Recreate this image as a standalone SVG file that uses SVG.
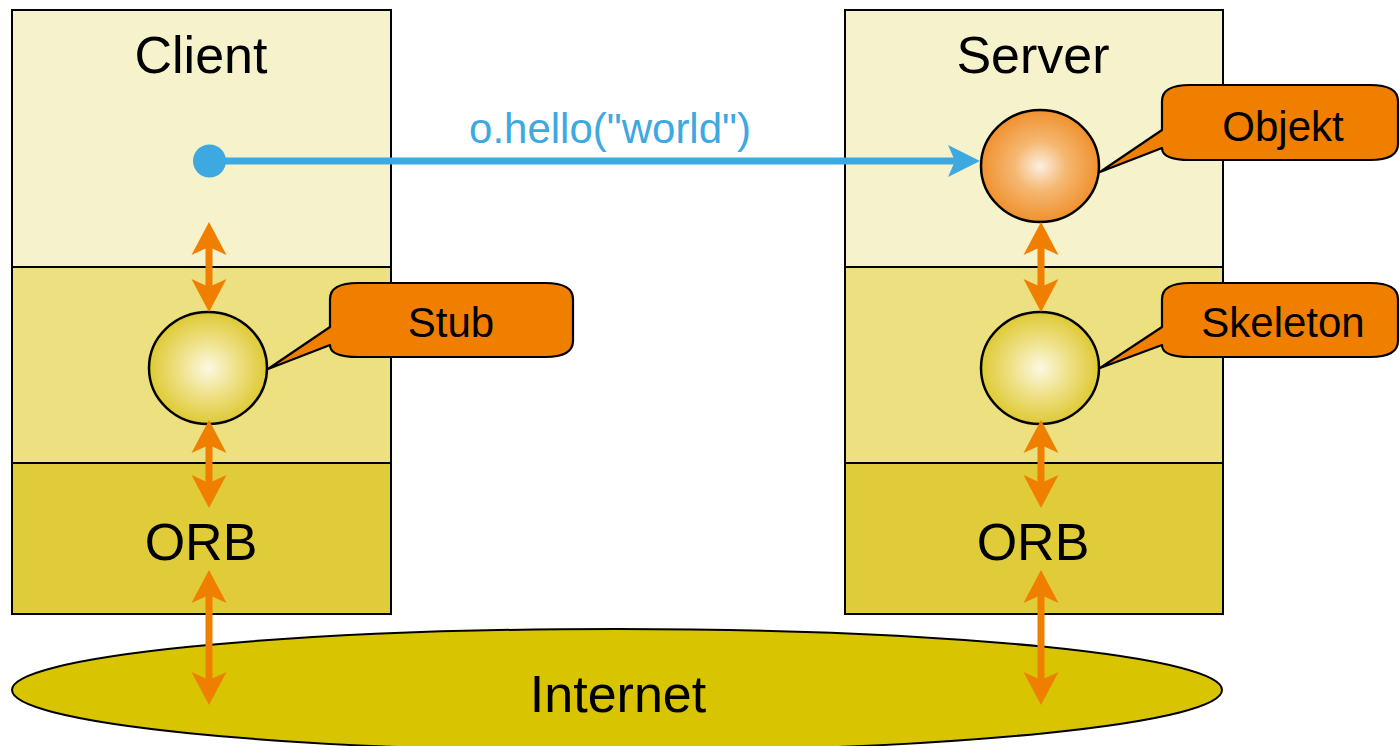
<svg xmlns="http://www.w3.org/2000/svg" width="1400" height="746" viewBox="0 0 1400 746">
  <style>
    .lbl { font-family: "Liberation Sans", Arial, sans-serif; fill: #000; text-anchor: middle; }
    .big { font-size: 52px; }
    .mid { font-size: 42px; }
    .frame { stroke: #000; stroke-width: 2; }
    .orb { fill: #e0cc38; }
    .mw { fill: #ece080; }
    .app { fill: #f6f2cc; }
    .callout { fill: #f07f00; stroke: #000; stroke-width: 2.2; stroke-linejoin: round; }
    .ball { stroke: #000; stroke-width: 2.5; }
    .link { stroke: #f07f00; stroke-width: 7; fill: none; marker-start: url(#headO); marker-end: url(#headO); }
  </style>
  <defs>
    <radialGradient id="gYellow" cx="50%" cy="50%" r="55%">
      <stop offset="0" stop-color="#fcf8e2"/>
      <stop offset="0.4" stop-color="#f0e390"/>
      <stop offset="1" stop-color="#dbc524"/>
    </radialGradient>
    <radialGradient id="gOrange" cx="50%" cy="50%" r="55%">
      <stop offset="0" stop-color="#fcefe0"/>
      <stop offset="0.4" stop-color="#f5b872"/>
      <stop offset="1" stop-color="#ef8a22"/>
    </radialGradient>
    <marker id="headO" viewBox="-10 -19 38 38" refX="0" refY="0" markerWidth="38" markerHeight="38" markerUnits="userSpaceOnUse" orient="auto-start-reverse">
      <path d="M25,0 L-8,-17.5 L0,0 L-8,17.5 Z" fill="#f07f00"/>
    </marker>
    <marker id="headB" viewBox="-10 -19 38 38" refX="0" refY="0" markerWidth="38" markerHeight="38" markerUnits="userSpaceOnUse" orient="auto">
      <path d="M25,0 L-7,-16 L0,0 L-7,16 Z" fill="#3ea8e0"/>
    </marker>
  </defs>

  <!-- network -->
  <g id="internet">
    <ellipse cx="617" cy="690" rx="605" ry="61" fill="#d8c400" stroke="#000" stroke-width="2"/>
    <text class="lbl big" x="618" y="712">Internet</text>
  </g>

  <!-- client host -->
  <g id="client">
    <rect class="app" x="12" y="10" width="379" height="257"/>
    <rect class="mw" x="12" y="267" width="379" height="196"/>
    <rect class="orb" x="12" y="463" width="379" height="151"/>
    <rect x="12" y="10" width="379" height="604" fill="none" class="frame"/>
    <line class="frame" x1="12" y1="267" x2="391" y2="267"/>
    <line class="frame" x1="12" y1="463" x2="391" y2="463"/>
    <text class="lbl big" x="201" y="73">Client</text>
    <text class="lbl big" x="201" y="560">ORB</text>
  </g>

  <!-- server host -->
  <g id="server">
    <rect class="app" x="845" y="10" width="378" height="257"/>
    <rect class="mw" x="845" y="267" width="378" height="196"/>
    <rect class="orb" x="845" y="463" width="378" height="151"/>
    <rect x="845" y="10" width="378" height="604" fill="none" class="frame"/>
    <line class="frame" x1="845" y1="267" x2="1223" y2="267"/>
    <line class="frame" x1="845" y1="463" x2="1223" y2="463"/>
    <text class="lbl big" x="1033" y="73">Server</text>
    <text class="lbl big" x="1033" y="560">ORB</text>
  </g>

  <g id="stub">
    <ellipse class="ball" cx="208" cy="368" rx="59" ry="56" fill="url(#gYellow)"/>
    <path class="callout" d="M358,283 H545 Q573,283 573,299 V341 Q573,357 545,357 H358 Q330,357 330,345 L268,369 L330,327 V299 Q330,283 358,283 Z"/>
    <text class="lbl mid" x="451" y="337">Stub</text>
  </g>

  <g id="objekt">
    <ellipse class="ball" cx="1040" cy="166" rx="59" ry="56" fill="url(#gOrange)"/>
    <path class="callout" d="M1190,85 H1370 Q1398,85 1398,101 V144 Q1398,160 1370,160 H1190 Q1162,160 1162,148 L1100,172 L1162,130 V101 Q1162,85 1190,85 Z"/>
    <text class="lbl mid" x="1283" y="141">Objekt</text>
  </g>

  <g id="skeleton">
    <ellipse class="ball" cx="1040" cy="368" rx="59" ry="56" fill="url(#gYellow)"/>
    <path class="callout" d="M1190,283 H1370 Q1398,283 1398,299 V341 Q1398,357 1370,357 H1190 Q1162,357 1162,345 L1100,368 L1162,327 V299 Q1162,283 1190,283 Z"/>
    <text class="lbl mid" x="1283" y="337">Skeleton</text>
  </g>

  <!-- connectors -->
  <g id="connectors">
    <circle cx="209.5" cy="161" r="16.5" fill="#3ea8e0"/>
    <line x1="209" y1="161" x2="955" y2="161" stroke="#3ea8e0" stroke-width="7" marker-end="url(#headB)"/>
    <text class="lbl mid" x="610" y="143" style="fill:#3ea8e0">o.hello("world")</text>

    <line class="link" x1="209" y1="247" x2="209" y2="287"/>
    <line class="link" x1="209" y1="445" x2="209" y2="483"/>
    <line class="link" x1="209" y1="595" x2="209" y2="680"/>

    <line class="link" x1="1041" y1="247" x2="1041" y2="287"/>
    <line class="link" x1="1041" y1="445" x2="1041" y2="483"/>
    <line class="link" x1="1041" y1="595" x2="1041" y2="680"/>
  </g>
</svg>
